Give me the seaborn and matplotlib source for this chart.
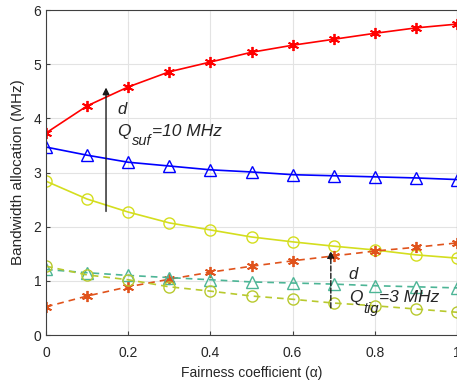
import numpy as np
import pandas as pd
import matplotlib
matplotlib.use("Agg")
import matplotlib.pyplot as plt
import seaborn as sns

alpha = [0.0, 0.1, 0.2, 0.3, 0.4, 0.5, 0.6, 0.7, 0.8, 0.9, 1.0]
suf_red = [3.73, 4.23, 4.58, 4.86, 5.04, 5.22, 5.35, 5.46, 5.57, 5.67, 5.74]
suf_blue = [3.47, 3.32, 3.19, 3.12, 3.05, 3.01, 2.96, 2.94, 2.92, 2.90, 2.87]
suf_yellow = [2.84, 2.51, 2.27, 2.07, 1.94, 1.81, 1.72, 1.64, 1.57, 1.48, 1.42]
tig_red = [0.52, 0.72, 0.89, 1.03, 1.16, 1.27, 1.37, 1.46, 1.55, 1.62, 1.70]
tig_teal = [1.21, 1.15, 1.10, 1.06, 1.02, 0.98, 0.96, 0.94, 0.91, 0.89, 0.87]
tig_olive = [1.27, 1.11, 1.02, 0.89, 0.81, 0.72, 0.66, 0.59, 0.54, 0.48, 0.42]
xticks = [0, 0.2, 0.4, 0.6, 0.8, 1.0]
xticklabels = ["0", "0.2", "0.4", "0.6", "0.8", "1"]
yticks = [0, 1, 2, 3, 4, 5, 6]

sns.set_style("ticks")
plt.rcParams['font.family'] = ['Liberation Sans', 'DejaVu Sans']

fig = plt.figure(figsize=(4.57, 3.81), dpi=100)
ax = fig.add_axes([0.1007, 0.1207, 0.8993, 0.853])

series = [
    ("suf_red", suf_red, '#FF0000', '-', (6, 2, 0)),
    ("suf_blue", suf_blue, '#0000FF', '-', '^'),
    ("suf_yellow", suf_yellow, '#D4DE1E', '-', 'o'),
    ("tig_red", tig_red, '#E0531C', '--', (6, 2, 0)),
    ("tig_teal", tig_teal, '#4DB596', '--', '^'),
    ("tig_olive", tig_olive, '#B8C92E', '--', 'o'),
]
for name, vals, col, ls, mk in series:
    df = pd.DataFrame({"alpha": alpha, "value": vals})
    sns.lineplot(data=df, x="alpha", y="value", ax=ax, color=col,
                 marker=mk, markersize=8 if mk in ('^', 'o') else 8,
                 markerfacecolor='none', markeredgecolor=col,
                 markeredgewidth=1.0 if mk in ('^', 'o') else 1.3,
                 linewidth=1.2, linestyle=ls,
                 dashes=False if ls == '-' else True)
for line, (_, _, _, ls, _) in zip(ax.get_lines(), series):
    if ls == '--':
        line.set_dashes((4, 3))

ax.set_xlim(0, 1)
ax.set_ylim(0, 6)
ax.set_xticks(xticks)
ax.set_xticklabels(xticklabels)
ax.set_yticks(yticks)
ax.grid(True, color='#E3E3E3', linewidth=0.8)
ax.set_axisbelow(True)
for s in ax.spines.values():
    s.set_color('#404040')
    s.set_linewidth(0.8)
ax.tick_params(direction='in', length=3, labelsize=10, colors='#404040', labelcolor='#262626')
ax.tick_params(axis='x', pad=8)
ax.set_xlabel("Fairness coefficient (α)", fontsize=10, color='#262626', labelpad=4)
ax.set_ylabel("Bandwidth allocation (MHz)", fontsize=11, color='#262626', labelpad=6)

# Q_suf annotation
ax.annotate("", xy=(0.146, 4.62), xytext=(0.146, 2.23),
            arrowprops=dict(arrowstyle='-|>', color='#1a1a1a', lw=1.0, mutation_scale=10))
ax.text(0.173, 4.08, "d", fontsize=12, style='italic', va='baseline', ha='left')
ax.text(0.173, 3.67, "Q", fontsize=12.5, style='italic', va='baseline', ha='left')
ax.text(0.210, 3.51, "suf", fontsize=10.5, style='italic', va='baseline', ha='left')
ax.text(0.259, 3.67, "=10 MHz", fontsize=12.5, style='italic', va='baseline', ha='left')

# Q_tig annotation
ax.annotate("", xy=(0.693, 1.60), xytext=(0.693, 0.45),
            arrowprops=dict(arrowstyle='-|>', color='#1a1a1a', lw=1.0, linestyle='--', mutation_scale=10))
ax.text(0.737, 1.03, "d", fontsize=12, style='italic', va='baseline', ha='left')
ax.text(0.737, 0.61, "Q", fontsize=12.5, style='italic', va='baseline', ha='left')
ax.text(0.771, 0.41, "tig", fontsize=10.5, style='italic', va='baseline', ha='left')
ax.text(0.810, 0.61, "=3 MHz", fontsize=12.5, style='italic', va='baseline', ha='left')

fig.savefig("out.png", dpi=100)
